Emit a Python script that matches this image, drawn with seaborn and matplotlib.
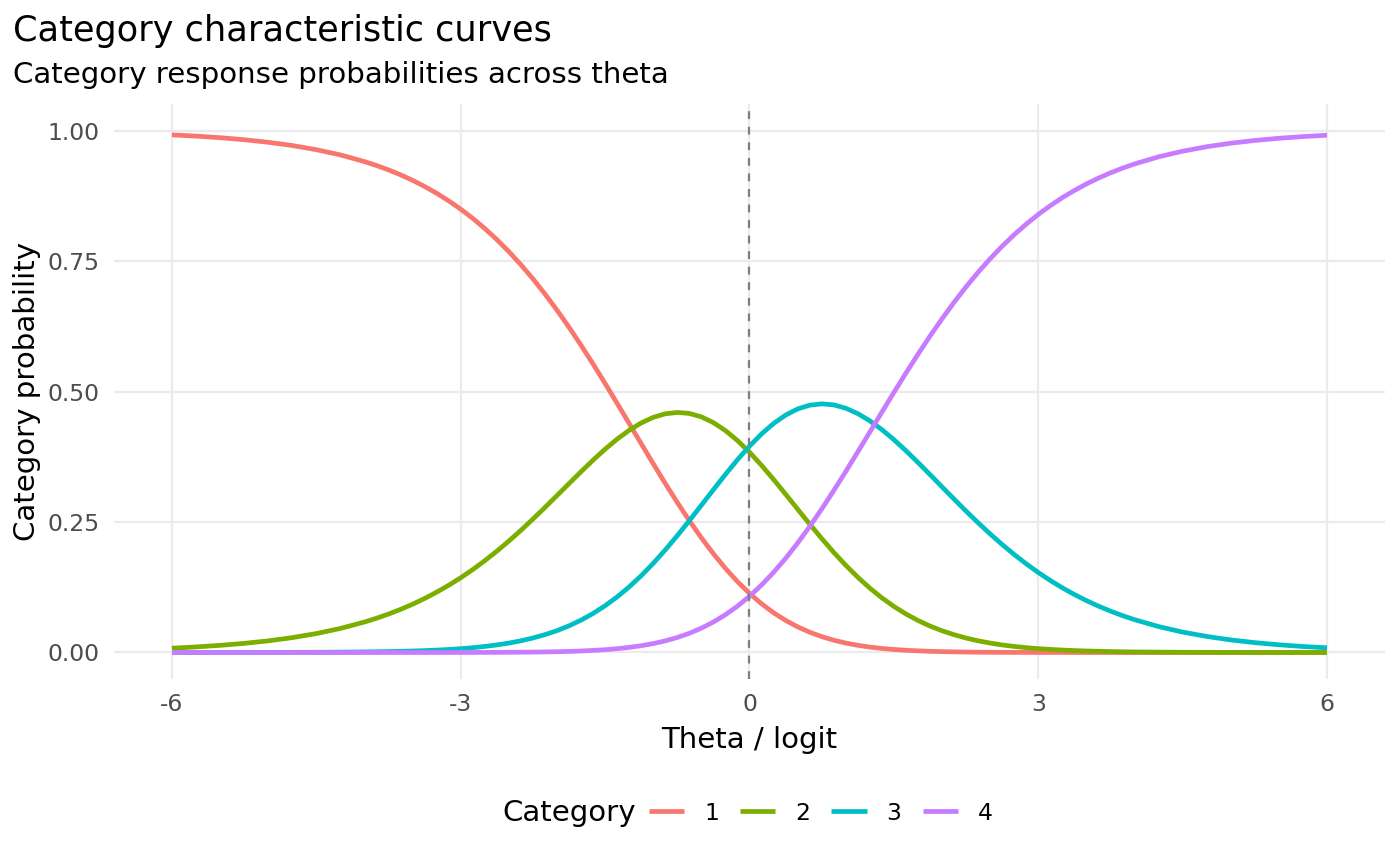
import seaborn as sns
import matplotlib
matplotlib.use("Agg")
import matplotlib.pyplot as plt
from matplotlib.lines import Line2D
import pandas as pd

# theta grid and category probabilities
theta = [-6.0, -5.75, -5.5, -5.25, -5.0, -4.75, -4.5, -4.25,
         -4.0, -3.875, -3.75, -3.625, -3.5, -3.375, -3.25, -3.125,
         -3.0, -2.875, -2.75, -2.625, -2.5, -2.375, -2.25, -2.125,
         -2.0, -1.875, -1.75, -1.625, -1.5, -1.375, -1.25, -1.125,
         -1.0, -0.875, -0.75, -0.625, -0.5, -0.375, -0.25, -0.125,
         0.0, 0.125, 0.25, 0.375, 0.5, 0.625, 0.75, 0.875,
         1.0, 1.125, 1.25, 1.375, 1.5, 1.625, 1.75, 1.875,
         2.0, 2.125, 2.25, 2.375, 2.5, 2.625, 2.75, 2.875,
         3.0, 3.125, 3.25, 3.375, 3.5, 3.625, 3.75, 3.875,
         4.0, 4.25, 4.5, 4.75, 5.0, 5.25, 5.5, 5.75, 6.0]

cat1 = [0.9917, 0.9893, 0.9863, 0.9824, 0.9775, 0.9713, 0.9633, 0.9533,
        0.9405, 0.9330, 0.9246, 0.9151, 0.9046, 0.8928, 0.8798, 0.8653,
        0.8493, 0.8317, 0.8123, 0.7911, 0.7680, 0.7429, 0.7159, 0.6868,
        0.6559, 0.6231, 0.5886, 0.5526, 0.5154, 0.4773, 0.4387, 0.4000,
        0.3616, 0.3239, 0.2874, 0.2526, 0.2197, 0.1892, 0.1612, 0.1358,
        0.1133, 0.0934, 0.0762, 0.0615, 0.0492, 0.0389, 0.0305, 0.0236,
        0.0181, 0.0138, 0.0104, 0.0078, 0.0058, 0.0043, 0.0032, 0.0023,
        0.0017, 0.0012, 0.0009, 0.0006, 0.0004, 0.0003, 0.0002, 0.0002,
        0.0001, 0.0001, 0.0001, 0.0000, 0.0000, 0.0000, 0.0000, 0.0000,
        0.0000, 0.0000, 0.0000, 0.0000, 0.0000, 0.0000, 0.0000, 0.0000, 0.0000]
cat2 = [0.0083, 0.0107, 0.0137, 0.0175, 0.0223, 0.0285, 0.0363, 0.0461,
        0.0584, 0.0656, 0.0737, 0.0826, 0.0925, 0.1035, 0.1156, 0.1288,
        0.1432, 0.1589, 0.1759, 0.1941, 0.2135, 0.2341, 0.2556, 0.2779,
        0.3007, 0.3236, 0.3464, 0.3686, 0.3896, 0.4088, 0.4258, 0.4398,
        0.4505, 0.4573, 0.4599, 0.4580, 0.4515, 0.4404, 0.4252, 0.4061,
        0.3837, 0.3586, 0.3316, 0.3033, 0.2746, 0.2461, 0.2184, 0.1919,
        0.1671, 0.1442, 0.1234, 0.1048, 0.0883, 0.0739, 0.0614, 0.0507,
        0.0417, 0.0341, 0.0277, 0.0224, 0.0181, 0.0145, 0.0116, 0.0093,
        0.0074, 0.0059, 0.0047, 0.0037, 0.0029, 0.0023, 0.0018, 0.0014,
        0.0011, 0.0007, 0.0004, 0.0003, 0.0002, 0.0001, 0.0001, 0.0000, 0.0000]
cat3 = [0.0000, 0.0000, 0.0001, 0.0001, 0.0002, 0.0003, 0.0004, 0.0007,
        0.0011, 0.0014, 0.0018, 0.0023, 0.0029, 0.0036, 0.0046, 0.0058,
        0.0073, 0.0092, 0.0116, 0.0145, 0.0181, 0.0224, 0.0278, 0.0342,
        0.0419, 0.0511, 0.0620, 0.0748, 0.0896, 0.1065, 0.1257, 0.1471,
        0.1708, 0.1965, 0.2239, 0.2526, 0.2822, 0.3119, 0.3412, 0.3693,
        0.3953, 0.4187, 0.4387, 0.4548, 0.4666, 0.4738, 0.4764, 0.4744,
        0.4680, 0.4577, 0.4439, 0.4271, 0.4078, 0.3867, 0.3642, 0.3410,
        0.3174, 0.2940, 0.2709, 0.2486, 0.2272, 0.2069, 0.1877, 0.1699,
        0.1533, 0.1380, 0.1240, 0.1111, 0.0995, 0.0889, 0.0793, 0.0707,
        0.0629, 0.0497, 0.0391, 0.0308, 0.0241, 0.0189, 0.0148, 0.0115, 0.0090]
cat4 = [0.0000, 0.0000, 0.0000, 0.0000, 0.0000, 0.0000, 0.0000, 0.0000,
        0.0000, 0.0000, 0.0000, 0.0000, 0.0000, 0.0000, 0.0000, 0.0001,
        0.0001, 0.0001, 0.0002, 0.0003, 0.0004, 0.0006, 0.0008, 0.0011,
        0.0015, 0.0021, 0.0029, 0.0040, 0.0054, 0.0073, 0.0098, 0.0130,
        0.0171, 0.0223, 0.0288, 0.0368, 0.0466, 0.0584, 0.0724, 0.0888,
        0.1077, 0.1293, 0.1535, 0.1803, 0.2096, 0.2412, 0.2748, 0.3101,
        0.3467, 0.3843, 0.4222, 0.4603, 0.4981, 0.5352, 0.5712, 0.6060,
        0.6392, 0.6708, 0.7005, 0.7284, 0.7543, 0.7783, 0.8004, 0.8207,
        0.8392, 0.8560, 0.8714, 0.8851, 0.8976, 0.9088, 0.9189, 0.9279,
        0.9360, 0.9496, 0.9604, 0.9690, 0.9757, 0.9810, 0.9852, 0.9884, 0.9910]

categories = ["1", "2", "3", "4"]
colors = ["#F8766D", "#7CAE00", "#00BFC4", "#C77CFF"]
x_ticks = [-6, -3, 0, 3, 6]
y_ticks = [0.0, 0.25, 0.5, 0.75, 1.0]

df = pd.DataFrame({
    "theta": theta * 4,
    "prob": cat1 + cat2 + cat3 + cat4,
    "Category": sum([[c] * len(theta) for c in categories], []),
})

sns.set_theme(style="white")
plt.rcParams["font.family"] = ["DejaVu Sans"]
plt.rcParams["text.color"] = "black"
plt.rcParams["axes.labelcolor"] = "black"

fig = plt.figure(figsize=(14, 8.66), dpi=100)
ax = fig.add_axes([0.0816, 0.2164, 0.9075, 0.663])

sns.lineplot(data=df, x="theta", y="prob", hue="Category", palette=colors,
             linewidth=3.4, ax=ax, legend=False, zorder=3,
             solid_capstyle="butt", solid_joinstyle="round")
ax.axvline(0, color="#7F7F7F", lw=1.6, dashes=(3.5, 3.5), zorder=4)

ax.set_xlim(-6.6, 6.6)
ax.set_ylim(-0.05, 1.05)
ax.set_xticks(x_ticks)
ax.set_xticklabels([str(t) for t in x_ticks])
ax.set_yticks(y_ticks)
ax.set_yticklabels([f"{t:.2f}" for t in y_ticks])
ax.grid(True, color="#EBEBEB", lw=1.6, zorder=0)
ax.set_axisbelow(True)
for s in ax.spines.values():
    s.set_visible(False)
ax.tick_params(axis="both", length=0, labelsize=16.9, labelcolor="#4D4D4D", pad=10.5)

ax.set_xlabel("Theta / logit", fontsize=21.1, labelpad=7)
ax.set_ylabel("Category probability", fontsize=21.1, labelpad=5)

fig.text(0.009, 1 - 41 / 866, "Category characteristic curves", fontsize=25.3,
         ha="left", va="baseline")
fig.text(0.009, 1 - 83 / 866, "Category response probabilities across theta",
         fontsize=21.1, ha="left", va="baseline")

# legend on the bottom with the title to the left
fig.text(502 / 1400, 1 - 813 / 866, "Category", fontsize=21.1, ha="left", va="center")
handles = [Line2D([], [], color=c, lw=3.4, solid_capstyle="butt") for c in colors]
fig.legend(handles, categories, loc="center left", bbox_to_anchor=(649 / 1400, 1 - 813 / 866),
           ncol=4, frameon=False, fontsize=16.9, handlelength=1.5, handletextpad=0.85,
           columnspacing=0.9, borderpad=0, borderaxespad=0)

fig.savefig("out.png", dpi=100)
